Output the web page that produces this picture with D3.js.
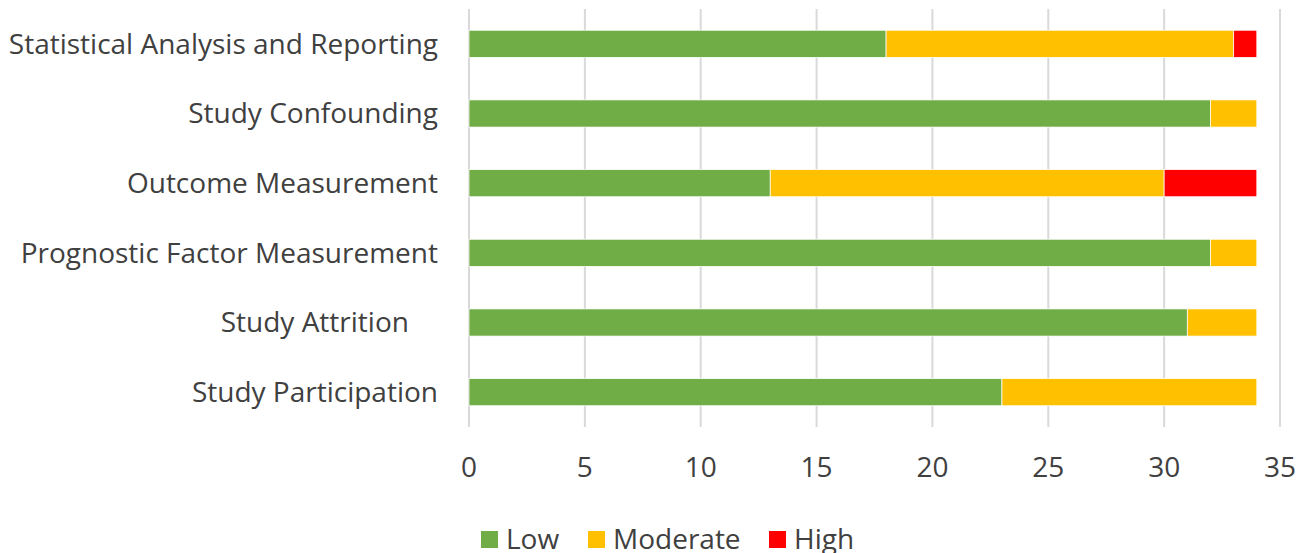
<!DOCTYPE html>
<html>
<head>
<meta charset="utf-8">
<script src="https://cdn.jsdelivr.net/npm/d3@7"></script>
<style>
  html, body { margin: 0; padding: 0; background: #fff; }
  svg { display: block; font-family: "Open Sans", sans-serif; }
  text { white-space: pre; }
</style>
</head>
<body>
<svg id="chart" width="1309" height="553"></svg>
<script>
// Risk-of-bias domains (top to bottom) and study counts per rating
const domains = [
  "Statistical Analysis and Reporting",
  "Study Confounding",
  "Outcome Measurement",
  "Prognostic Factor Measurement",
  "Study Attrition    ",
  "Study Participation"
];
const low      = [18, 32, 13, 32, 31, 23];
const moderate = [15,  2, 17,  2,  3, 11];
const high     = [ 1,  0,  4,  0,  0,  0];
const seriesNames = ["Low", "Moderate", "High"];
const seriesColors = ["#70ad47", "#ffc000", "#ff0000"];
const xTicks = [0, 5, 10, 15, 20, 25, 30, 35];

const svg = d3.select("#chart");
const plot = { left: 469, right: 1280, top: 9, bottom: 427 };
const fontSize = 28;

const x = d3.scaleLinear().domain([0, 35]).range([plot.left, plot.right]);
const y = d3.scaleBand().domain(domains).range([plot.top, plot.bottom]).paddingInner(0.61).paddingOuter(0.305);

const rows = domains.map((d, i) => ({ domain: d, Low: low[i], Moderate: moderate[i], High: high[i] }));
const stacked = d3.stack().keys(seriesNames)(rows);

// vertical gridlines
svg.append("g")
  .selectAll("line")
  .data(xTicks)
  .join("line")
  .attr("x1", d => x(d)).attr("x2", d => x(d))
  .attr("y1", plot.top).attr("y2", plot.bottom)
  .attr("stroke", "#d9d9d9")
  .attr("stroke-width", 2);

// stacked bars
svg.append("g")
  .selectAll("g")
  .data(stacked)
  .join("g")
  .attr("fill", (s, i) => seriesColors[i])
  .selectAll("rect")
  .data(s => s.filter(d => d[1] - d[0] > 0))
  .join("rect")
  .attr("x", d => x(d[0]))
  .attr("y", d => y(d.data.domain))
  .attr("width", d => x(d[1]) - x(d[0]))
  .attr("height", y.bandwidth())
  .attr("stroke", "#ffffff")
  .attr("stroke-width", 0.75);

// category labels
svg.append("g")
  .selectAll("text")
  .data(domains)
  .join("text")
  .attr("x", plot.left - 31)
  .attr("y", d => y(d) + y.bandwidth() / 2)
  .attr("dy", "0.35em")
  .attr("text-anchor", "end")
  .attr("font-size", fontSize)
  .attr("fill", "#404040")
  .text(d => d);

// x tick labels
svg.append("g")
  .selectAll("text")
  .data(xTicks)
  .join("text")
  .attr("x", d => x(d))
  .attr("y", 467)
  .attr("dy", "0.35em")
  .attr("text-anchor", "middle")
  .attr("font-size", fontSize)
  .attr("fill", "#404040")
  .text(d => d);

// legend
const legendX = [481, 588, 769];
const legend = svg.append("g")
  .selectAll("g")
  .data(seriesNames)
  .join("g")
  .attr("transform", (d, i) => `translate(${legendX[i]},531)`);
legend.append("rect")
  .attr("width", 17).attr("height", 17)
  .attr("fill", (d, i) => seriesColors[i]);
legend.append("text")
  .attr("x", 25).attr("y", 8.5)
  .attr("dy", "0.35em")
  .attr("font-size", fontSize)
  .attr("fill", "#404040")
  .text(d => d);
</script>
</body>
</html>
